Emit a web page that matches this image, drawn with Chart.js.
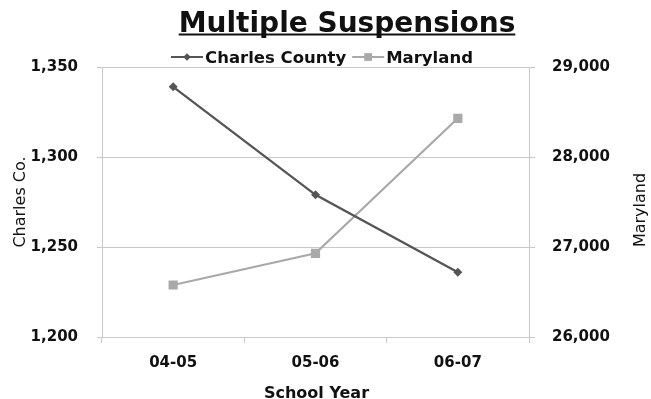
<!DOCTYPE html>
<html>
<head>
<meta charset="utf-8">
<script src="https://cdn.jsdelivr.net/npm/chart.js@4.4.1/dist/chart.umd.min.js"></script>
<style>
  html, body { margin: 0; padding: 0; background: #ffffff; }
  #wrap { width: 651px; height: 399px; position: relative; }
</style>
</head>
<body>
<div id="wrap"><canvas id="chart" width="651" height="399"></canvas></div>
<script>
// Multiple suspensions by school year
const schoolYears = ['04-05', '05-06', '06-07'];
const charlesCounty = [1339, 1279, 1236];
const maryland = [26578, 26930, 28430];

const charlesTicks = [1200, 1250, 1300, 1350];
const marylandTicks = [26000, 27000, 28000, 29000];

const chartTitle = 'Multiple Suspensions';
const xTitle = 'School Year';
const leftTitle = 'Charles Co.';
const rightTitle = 'Maryland';

const INK = '#111111';
const GRID = '#c9c9c9';
const FONT = '"DejaVu Sans", "Liberation Sans", Arial, sans-serif';

const seriesStyle = [
  { label: 'Charles County', color: '#555555', point: 'rectRot', radius: 4.5 },
  { label: 'Maryland', color: '#a9a9a9', point: 'rect', radius: 6.5 }
];

// Title, legend and axis titles drawn around the plot area
const decorations = {
  id: 'decorations',
  afterDraw(chart) {
    const ctx = chart.ctx;
    const area = chart.chartArea;
    ctx.save();
    ctx.fillStyle = INK;

    // underlined title
    ctx.font = 'bold 28px ' + FONT;
    ctx.textAlign = 'center';
    ctx.textBaseline = 'alphabetic';
    const tx = 347;
    ctx.fillText(chartTitle, tx, 31.5);
    const tw = ctx.measureText(chartTitle).width;
    ctx.fillRect(tx - tw / 2, 33.5, tw, 2);

    // legend
    ctx.font = 'bold 16.5px ' + FONT;
    const lineLen = 32, gapA = 2, gapB = 6;
    const items = chart.data.datasets.map((ds, i) => ({
      ds, i, w: ctx.measureText(ds.label).width
    }));
    let total = 0;
    items.forEach((it, k) => { total += lineLen + gapA + it.w + (k < items.length - 1 ? gapB : 0); });
    let x = 322 - total / 2;
    const ly = 57;
    items.forEach((it) => {
      ctx.strokeStyle = it.ds.borderColor;
      ctx.lineWidth = 2;
      ctx.beginPath();
      ctx.moveTo(x, ly);
      ctx.lineTo(x + lineLen, ly);
      ctx.stroke();
      ctx.fillStyle = it.ds.pointBackgroundColor;
      Chart.helpers.drawPoint(ctx, {
        pointStyle: it.ds.pointStyle,
        radius: it.ds.pointRadius * 0.8,
        borderWidth: 0,
        rotation: 0
      }, x + lineLen / 2, ly);
      ctx.fill();
      ctx.fillStyle = INK;
      ctx.textAlign = 'left';
      ctx.textBaseline = 'alphabetic';
      ctx.fillText(it.ds.label, x + lineLen + gapA, 62.5);
      x += lineLen + gapA + it.w + gapB;
    });

    // axis titles
    ctx.fillStyle = INK;
    ctx.textAlign = 'center';
    ctx.textBaseline = 'middle';
    ctx.font = '16px ' + FONT;
    ctx.save();
    ctx.translate(21, (area.top + area.bottom) / 2);
    ctx.rotate(-Math.PI / 2);
    ctx.fillText(leftTitle, 0, 0);
    ctx.restore();
    ctx.save();
    ctx.translate(641, (area.top + area.bottom) / 2 + 8);
    ctx.rotate(-Math.PI / 2);
    ctx.fillText(rightTitle, 0, 0);
    ctx.restore();

    ctx.font = 'bold 16px ' + FONT;
    ctx.textBaseline = 'alphabetic';
    ctx.fillText(xTitle, (area.left + area.right) / 2 + 1, 398);
    ctx.restore();
  }
};

const fmt = (v) => Number(v).toLocaleString('en-US');
const tickFont = { family: FONT, size: 15, weight: 'bold' };

new Chart(document.getElementById('chart'), {
  type: 'line',
  data: {
    labels: schoolYears,
    datasets: [
      {
        label: seriesStyle[0].label,
        data: charlesCounty,
        yAxisID: 'y',
        borderColor: seriesStyle[0].color,
        backgroundColor: seriesStyle[0].color,
        pointBackgroundColor: seriesStyle[0].color,
        pointBorderColor: seriesStyle[0].color,
        pointStyle: seriesStyle[0].point,
        pointRadius: seriesStyle[0].radius,
        pointBorderWidth: 0,
        borderWidth: 2.3,
        tension: 0
      },
      {
        label: seriesStyle[1].label,
        data: maryland,
        yAxisID: 'y1',
        borderColor: seriesStyle[1].color,
        backgroundColor: seriesStyle[1].color,
        pointBackgroundColor: seriesStyle[1].color,
        pointBorderColor: seriesStyle[1].color,
        pointStyle: seriesStyle[1].point,
        pointRadius: seriesStyle[1].radius,
        pointBorderWidth: 0,
        borderWidth: 2.2,
        tension: 0
      }
    ]
  },
  options: {
    responsive: false,
    animation: false,
    events: [],
    layout: { padding: { top: 67, left: 0, right: 0, bottom: 0 } },
    plugins: {
      legend: { display: false },
      title: { display: false },
      tooltip: { enabled: false }
    },
    scales: {
      x: {
        type: 'category',
        offset: true,
        grid: {
          offset: true,
          drawOnChartArea: false,
          color: GRID,
          tickLength: 6
        },
        border: { color: GRID, width: 1 },
        ticks: { color: INK, font: tickFont, padding: 11, maxRotation: 0 },
        afterFit(scale) { scale.height = 62; }
      },
      y: {
        position: 'left',
        min: charlesTicks[0],
        max: charlesTicks[charlesTicks.length - 1],
        afterBuildTicks(scale) { scale.ticks = charlesTicks.map(v => ({ value: v })); },
        grid: { color: GRID, tickLength: 5 },
        border: { color: GRID, width: 1 },
        ticks: { color: INK, font: tickFont, padding: 19, callback: fmt },
        afterFit(scale) { scale.width = 102; }
      },
      y1: {
        position: 'right',
        min: marylandTicks[0],
        max: marylandTicks[marylandTicks.length - 1],
        afterBuildTicks(scale) { scale.ticks = marylandTicks.map(v => ({ value: v })); },
        grid: { drawOnChartArea: false, color: GRID, tickLength: 6 },
        border: { color: GRID, width: 1 },
        ticks: { color: INK, font: tickFont, padding: 17, callback: fmt },
        afterFit(scale) { scale.width = 122; }
      }
    }
  },
  plugins: [decorations]
});
</script>
</body>
</html>
